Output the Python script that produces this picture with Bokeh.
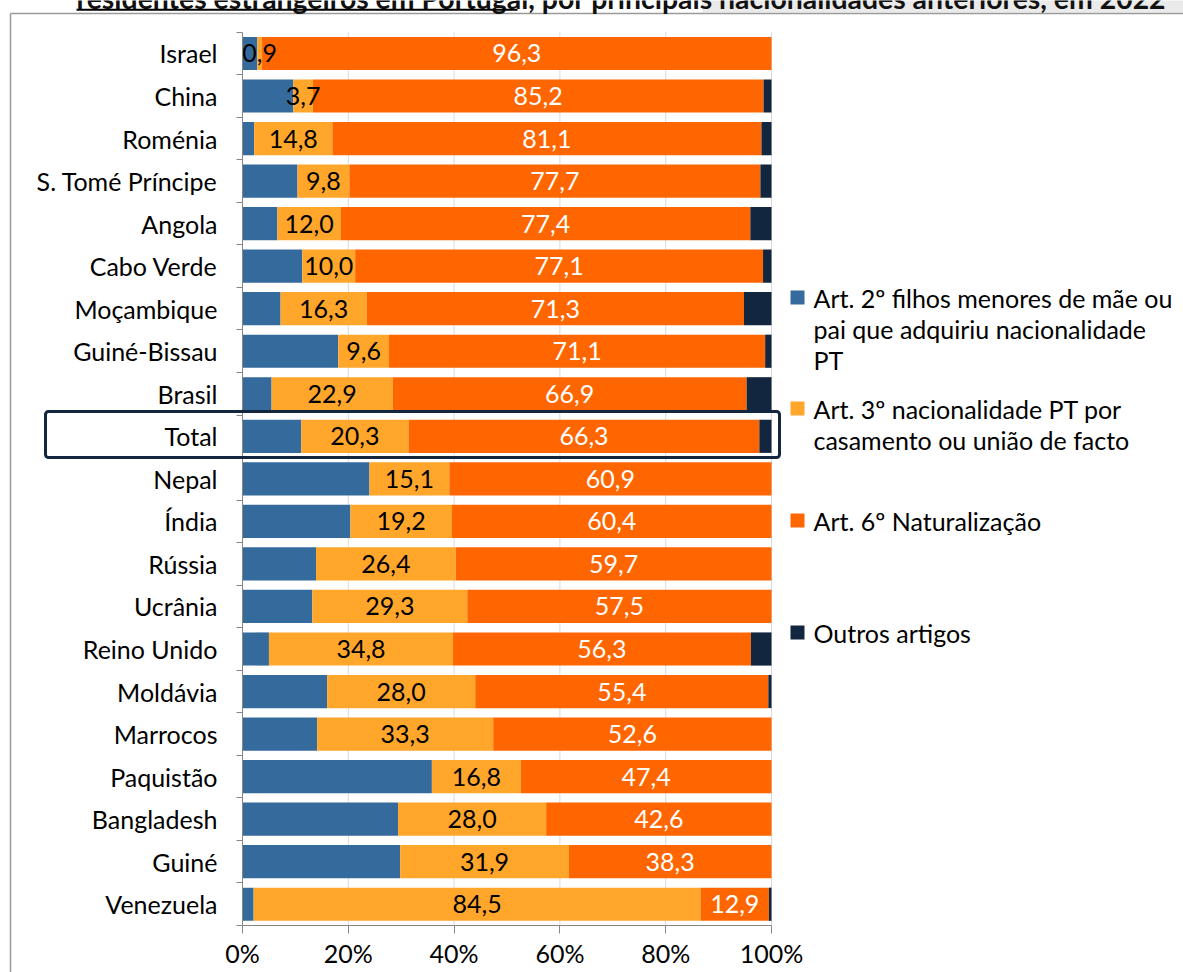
from bokeh.plotting import figure
from bokeh.models import (Range1d, FixedTicker, BoxAnnotation, ColumnDataSource,
                          CustomJSTickFormatter)
from bokeh.core.properties import value
from bokeh.embed import file_html
from bokeh.resources import INLINE

# ---------------- data ----------------
countries = ["Israel", "China", "Roménia", "S. Tomé Príncipe", "Angola", "Cabo Verde",
             "Moçambique", "Guiné-Bissau", "Brasil", "Total", "Nepal", "Índia", "Rússia",
             "Ucrânia", "Reino Unido", "Moldávia", "Marrocos", "Paquistão", "Bangladesh",
             "Guiné", "Venezuela"]
art2 = [2.8, 9.6, 2.2, 10.4, 6.6, 11.3, 7.2, 18.1, 5.5, 11.1, 24.0, 20.4, 13.9, 13.2,
        5.0, 16.0, 14.1, 35.8, 29.4, 29.8, 2.1]
art3 = [0.9, 3.7, 14.8, 9.8, 12.0, 10.0, 16.3, 9.6, 22.9, 20.3, 15.1, 19.2, 26.4, 29.3,
        34.8, 28.0, 33.3, 16.8, 28.0, 31.9, 84.5]
art6 = [96.3, 85.2, 81.1, 77.7, 77.4, 77.1, 71.3, 71.1, 66.9, 66.3, 60.9, 60.4, 59.7, 57.5,
        56.3, 55.4, 52.6, 47.4, 42.6, 38.3, 12.9]
outros = [0.0, 1.5, 1.9, 2.1, 4.0, 1.6, 5.2, 1.2, 4.7, 2.3, 0.0, 0.0, 0.0, 0.0,
          3.9, 0.6, 0.0, 0.0, 0.0, 0.0, 0.5]
legend_lines = [["Art. 2º filhos menores de mãe ou", "pai que adquiriu nacionalidade", "PT"],
                ["Art. 3º nacionalidade PT por", "casamento ou união de facto"],
                ["Art. 6º Naturalização"],
                ["Outros artigos"]]
x_ticks = [0, 20, 40, 60, 80, 100]
title_text = "residentes estrangeiros em Portugal, por principais nacionalidades anteriores, em 2022"

colors = ["#356A9C", "#FFA62B", "#FF6600", "#13263F"]
FONT = "Lato"
FS = "25px"

# ---------------- layout helpers ----------------
W, H = 1183, 972
FL, FB = 242, 925          # page px of 0 % and of the category axis bottom
PX = 5.29                  # px per percent
TOP0 = 31.7                # page y of first category boundary
N = len(countries)
STEP = (FB - TOP0) / N


def xd(px):
    return (px - FL) / PX


def yd(py):
    return (py - TOP0) / STEP


p = figure(width=W, height=H, output_backend="svg", toolbar_location=None, title=None,
           x_range=Range1d(xd(0), xd(W)), y_range=Range1d(yd(H), yd(0)),
           min_border_left=0, min_border_right=0, min_border_top=0,
           min_border_bottom=0)
p.outline_line_color = None
p.background_fill_color = "white"
p.border_fill_color = "white"
p.xgrid.visible = False
p.ygrid.visible = False

# top grey band behind title
p.quad(left=[xd(702)], right=[xd(W + 5)], top=[yd(-2)], bottom=[yd(12)],
       fill_color="#EAEAEA", line_color=None)

# chart border (left + top)
p.segment(x0=[xd(10), xd(10)], y0=[yd(13), yd(13)], x1=[xd(W + 5), xd(10)],
          y1=[yd(13), yd(H + 5)], line_color="#9A9A9A", line_width=1.5)

# gridlines
p.segment(x0=x_ticks[1:], x1=x_ticks[1:], y0=[0] * 5, y1=[N] * 5, line_color="#D9D9D9",
          line_width=1)

# ---------------- bars ----------------
ys = [i + 0.5 for i in range(N)]
src = ColumnDataSource(dict(y=ys, a2=art2, a3=art3, a6=art6, o=outros))
p.hbar_stack(["a2", "a3", "a6", "o"], y="y", height=0.78, color=colors, source=src,
             line_color=None)

# value labels
mid3 = [a + b / 2 for a, b in zip(art2, art3)]
mid6 = [a + b + c / 2 for a, b, c in zip(art2, art3, art6)]
fmt = lambda v: f"{v:.1f}".replace(".", ",")
p.text(x=mid3, y=ys, text=[fmt(v) for v in art3], text_align="center",
       text_baseline="middle", text_color="black", text_font=value(FONT),
       text_font_size=FS)
p.text(x=mid6, y=ys, text=[fmt(v) for v in art6], text_align="center",
       text_baseline="middle", text_color="white", text_font=value(FONT),
       text_font_size=FS)

# ---------------- axes ----------------
xa = p.xaxis[0]
xa.fixed_location = N
xa.ticker = FixedTicker(ticks=x_ticks)
xa.bounds = (0, 100)
xa.formatter = CustomJSTickFormatter(code="return tick + '%';")
xa.axis_line_color = "#868686"
xa.major_tick_line_color = "#868686"
xa.major_tick_out = 8
xa.major_tick_in = 0
xa.minor_tick_line_color = None
xa.major_label_standoff = 4
xa.major_label_text_font = FONT
xa.major_label_text_font_size = FS
xa.major_label_text_color = "black"

ya = p.yaxis[0]
ya.fixed_location = 0
ya.ticker = FixedTicker(ticks=ys, minor_ticks=list(range(N + 1)))
ya.bounds = (0, N)
ya.formatter = CustomJSTickFormatter(args=dict(names=countries),
                                     code="return names[Math.floor(tick)];")
ya.axis_line_color = "#868686"
ya.major_tick_out = 0
ya.major_tick_in = 0
ya.minor_tick_out = 6
ya.minor_tick_in = 0
ya.minor_tick_line_color = "#868686"
ya.major_label_standoff = 19
ya.major_label_text_font = FONT
ya.major_label_text_font_size = FS
ya.major_label_text_color = "black"

# ---------------- legend (manual) ----------------
sq_py = [297, 408, 520, 632]
line_gap = 31
p.scatter(x=[xd(797)] * 4, y=[yd(v) for v in sq_py], marker="square", size=14,
          fill_color=colors, line_color=None)
lx, ly, lt = [], [], []
for k, lines in enumerate(legend_lines):
    for j, t in enumerate(lines):
        lx.append(xd(813))
        ly.append(yd(sq_py[k] + j * line_gap))
        lt.append(t)
p.text(x=lx, y=ly, text=lt, text_align="left", text_baseline="middle",
       text_color="black", text_font=value(FONT), text_font_size=FS)

# ---------------- total highlight box ----------------
p.add_layout(BoxAnnotation(left=xd(45), right=xd(779), top=yd(411), bottom=yd(457),
                           fill_alpha=0, line_color="#13263F", line_alpha=1,
                           line_width=3, border_radius=3))

# ---------------- cropped title (only its lower edge is visible) ----------------
p.text(x=[xd(76)], y=[yd(-3)], text=[title_text], text_font=value(FONT),
       text_font_size="28.4px", text_font_style="bold", text_color="#111111",
       text_baseline="middle", text_align="left")
p.segment(x0=[xd(76)], x1=[xd(517)], y0=[yd(9.3)], y1=[yd(9.3)], line_color="black",
          line_width=2)

open("out.html", "w").write(file_html(p, INLINE))
